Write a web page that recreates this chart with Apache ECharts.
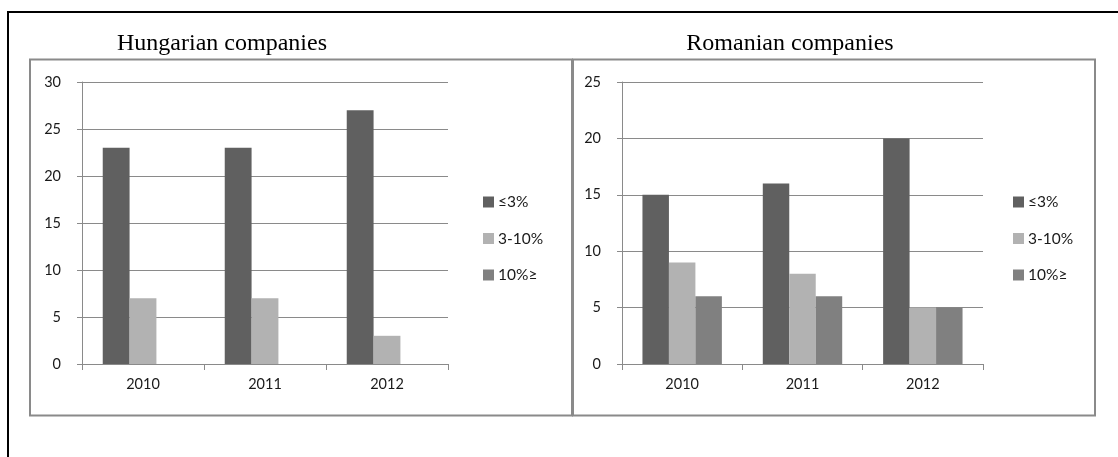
<!DOCTYPE html>
<html>
<head>
<meta charset="utf-8">
<script src="https://cdn.jsdelivr.net/npm/echarts@6/dist/echarts.min.js"></script>
<style>
html,body{margin:0;padding:0;background:#fff;}
#chart{width:1118px;height:457px;}
</style>
</head>
<body>
<div id="chart"></div>
<script>
const years = ['2010', '2011', '2012'];
const seriesNames = ['≤3%', '3-10%', '10%≥'];
const colors = ['#606060', '#b2b2b2', '#808080'];

const huLow = [23, 23, 27];
const huMid = [7, 7, 3];
const huHigh = [0, 0, 0];

const roLow = [15, 16, 20];
const roMid = [9, 8, 5];
const roHigh = [6, 6, 5];

const titles = ['Hungarian companies', 'Romanian companies'];

const labelFont = 'Lato, "Open Sans", sans-serif';
const gridColor = '#8a8a8a';

function xAxis(idx) {
  return {
    type: 'category', gridIndex: idx, data: years, boundaryGap: true,
    axisLine: { show: true, lineStyle: { color: gridColor, width: 1 } },
    axisTick: { show: true, length: 6, alignWithLabel: false, lineStyle: { color: gridColor } },
    axisLabel: { color: '#1a1a1a', fontSize: 14.5, fontFamily: labelFont, margin: 13 }
  };
}
function yAxis(idx, max) {
  return {
    type: 'value', gridIndex: idx, min: 0, max: max, interval: 5,
    axisLine: { show: true, lineStyle: { color: gridColor, width: 1 } },
    axisTick: { show: true, length: 5, lineStyle: { color: gridColor } },
    splitLine: { show: true, lineStyle: { color: gridColor, width: 1 } },
    axisLabel: { color: '#1a1a1a', fontSize: 14.5, fontFamily: labelFont, margin: 21 }
  };
}
function bar(name, data, idx, color, gap) {
  return {
    type: 'bar', name: name, data: data, xAxisIndex: idx, yAxisIndex: idx,
    barGap: '0%', barCategoryGap: gap, itemStyle: { color: color },
    animation: false
  };
}
function legend(left) {
  return {
    orient: 'vertical', left: left, top: 194, padding: 0, itemWidth: 11, itemHeight: 11, itemGap: 20.5,
    icon: 'rect', data: seriesNames,
    textStyle: { color: '#1a1a1a', fontSize: 15.5, lineHeight: 16, fontFamily: labelFont, padding: [0, 0, 0, -1] }
  };
}

const chart = echarts.init(document.getElementById('chart'), null, { renderer: 'canvas' });
chart.setOption({
  animation: false,
  backgroundColor: '#fff',
  color: colors,
  grid: [
    { left: 82, top: 82, width: 366, height: 282 },
    { left: 622, top: 82, width: 361, height: 282 }
  ],
  xAxis: [xAxis(0), xAxis(1)],
  yAxis: [yAxis(0, 30), yAxis(1, 25)],
  legend: [legend(483), legend(1013)],
  series: [
    bar(seriesNames[0], huLow, 0, colors[0], '34%'),
    bar(seriesNames[1], huMid, 0, colors[1], '34%'),
    bar(seriesNames[2], huHigh, 0, colors[2], '34%'),
    bar(seriesNames[0], roLow, 1, colors[0], '34%'),
    bar(seriesNames[1], roMid, 1, colors[1], '34%'),
    bar(seriesNames[2], roHigh, 1, colors[2], '34%')
  ],
  graphic: [
    { type: 'polyline', silent: true, shape: { points: [[8, 460], [8, 12], [1120, 12]] },
      style: { stroke: '#000', lineWidth: 2, fill: null } },
    { type: 'rect', silent: true, shape: { x: 30, y: 59.5, width: 542, height: 356 },
      style: { stroke: gridColor, lineWidth: 2, fill: null } },
    { type: 'rect', silent: true, shape: { x: 573, y: 59.5, width: 522, height: 356 },
      style: { stroke: gridColor, lineWidth: 2, fill: null } },
    { type: 'text', silent: true, x: 222, y: 44,
      style: { text: titles[0], font: '24px "Liberation Serif", "Times New Roman", serif', fill: '#000', textAlign: 'center', textVerticalAlign: 'middle' } },
    { type: 'text', silent: true, x: 790, y: 44,
      style: { text: titles[1], font: '24px "Liberation Serif", "Times New Roman", serif', fill: '#000', textAlign: 'center', textVerticalAlign: 'middle' } }
  ]
});
</script>
</body>
</html>
